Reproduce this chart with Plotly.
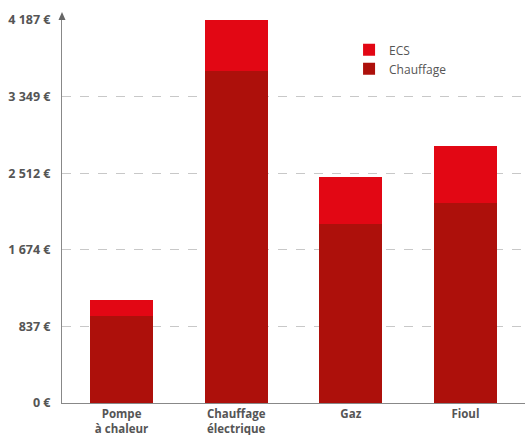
import plotly.graph_objects as go

categories = ["Pompe<br>à chaleur", "Chauffage<br>électrique", "Gaz", "Fioul"]
chauffage = [951, 3628, 1956, 2186]
ecs = [175, 559, 514, 623]
tick_vals = [0, 837, 1674, 2512, 3349, 4187]
tick_text = ["0 €", "837 €", "1 674 €", "2 512 €", "3 349 €", "4 187 €"]

fig = go.Figure()
fig.add_trace(go.Bar(x=categories, y=chauffage, name="Chauffage",
                     marker=dict(color="#AD100B", line=dict(width=0)), width=0.55))
fig.add_trace(go.Bar(x=categories, y=ecs, name="ECS",
                     marker=dict(color="#E20714", line=dict(width=0)), width=0.55))

fig.update_layout(
    width=525, height=435,
    barmode="stack",
    margin=dict(l=62, r=0, t=20, b=32),
    plot_bgcolor="white", paper_bgcolor="white",
    font=dict(family="Open Sans", color="#555555", size=11),
    legend=dict(x=0.62, y=0.96, xanchor="left", yanchor="top",
                traceorder="reversed", font=dict(size=12, color="#555555"),
                bgcolor="rgba(0,0,0,0)", itemwidth=30, tracegroupgap=0),
    showlegend=True,
)
fig.update_xaxes(range=[-0.52, 3.52], showline=True, linecolor="#888888", linewidth=1,
                 showgrid=False, ticks="", tickfont=dict(family="Open Sans", size=11.5, color="#555555", weight="bold"))
fig.update_yaxes(range=[0, 4187], tickvals=tick_vals, ticktext=tick_text,
                 showline=True, linecolor="#888888", linewidth=1,
                 showgrid=True, gridcolor="#c8c8c8", griddash="dash", gridwidth=1,
                 zeroline=False, ticks="", ticklabelstandoff=8,
                 tickfont=dict(family="Open Sans", size=12.5, color="#555555", weight="bold"))
fig.add_shape(type="path", xref="paper", yref="paper", xsizemode="pixel", ysizemode="pixel",
              xanchor=0, yanchor=1, path="M-3.5,0 L0,8 L3.5,0 Z",
              fillcolor="#666666", line=dict(width=0), layer="above")
fig.write_html("out.html")
